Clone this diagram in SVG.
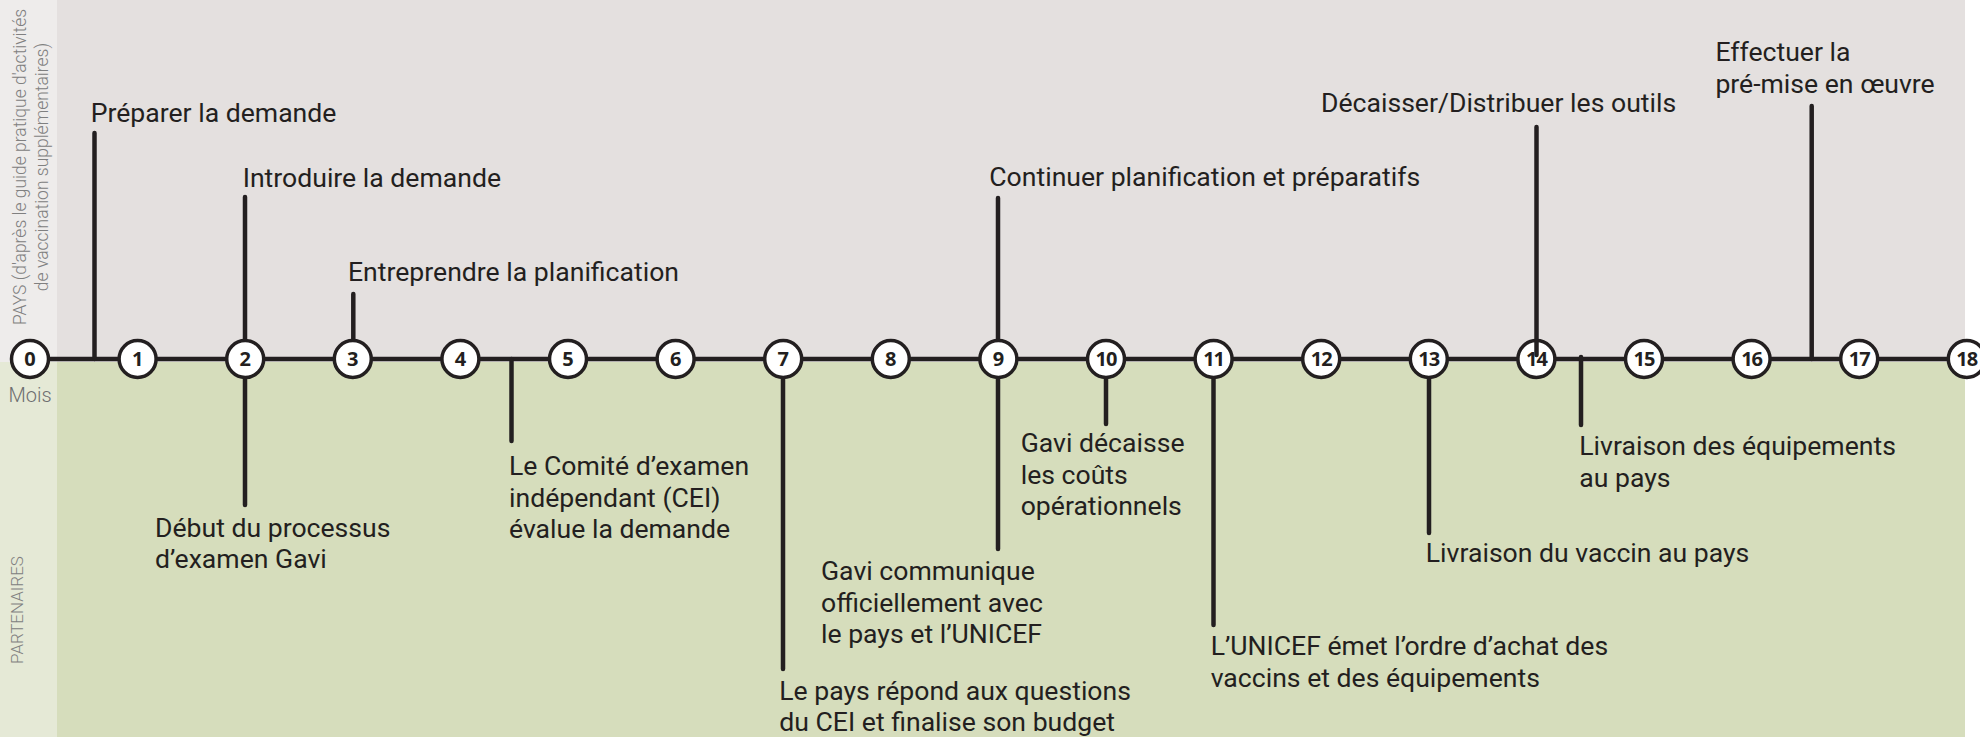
<svg xmlns="http://www.w3.org/2000/svg" width="1980" height="737" viewBox="0 0 1980 737">
<style>
.lbl{font-family:Roboto,"Liberation Sans",sans-serif;font-size:26.6px;fill:#231f20;}
.side{font-family:Roboto,"Liberation Sans",sans-serif;font-weight:300;font-size:17.5px;fill:#808080;}
.mois{font-family:Roboto,"Liberation Sans",sans-serif;font-weight:300;font-size:20px;fill:#6d6e70;}
.ln{stroke:#231f20;stroke-width:4.5;stroke-linecap:round;fill:none;}
.dot{fill:#ffffff;stroke:#231f20;stroke-width:3.5;}
.num{font-family:"Open Sans","DejaVu Sans",sans-serif;font-weight:700;font-size:20px;fill:#231f20;text-anchor:middle;}
</style>
<g id="background">
<rect x="0" y="0" width="1965" height="362" fill="#e4e0df"/>
<rect x="0" y="362" width="1965" height="375" fill="#d6ddbc"/>
<rect x="0" y="0" width="57" height="362" fill="#eeeceb"/>
<rect x="0" y="362" width="57" height="375" fill="#e5e9d6"/>
</g>
<g id="side-labels">
<text class="side" text-anchor="middle" transform="translate(25.5,167) rotate(-90)">PAYS (d'après le guide pratique d'activités</text>
<text class="side" text-anchor="middle" transform="translate(47.5,167) rotate(-90)">de vaccination supplémentaires)</text>
<text class="side" style="font-size:17px" text-anchor="middle" transform="translate(22.5,610) rotate(-90)">PARTENAIRES</text>
<text class="mois" x="30" y="402" text-anchor="middle">Mois</text>
</g>
<g id="connectors">
<line class="ln" x1="30" y1="359" x2="1985" y2="359"/>
<line class="ln" x1="94.5" y1="133" x2="94.5" y2="359"/>
<line class="ln" x1="245" y1="197" x2="245" y2="505"/>
<line class="ln" x1="353.3" y1="294" x2="353.3" y2="359"/>
<line class="ln" x1="511.5" y1="359" x2="511.5" y2="441"/>
<line class="ln" x1="783" y1="359" x2="783" y2="669"/>
<line class="ln" x1="998" y1="198" x2="998" y2="549"/>
<line class="ln" x1="1106" y1="359" x2="1106" y2="424"/>
<line class="ln" x1="1213.5" y1="359" x2="1213.5" y2="625"/>
<line class="ln" x1="1429" y1="359" x2="1429" y2="533"/>
<line class="ln" x1="1581" y1="357" x2="1581" y2="425"/>
<line class="ln" x1="1811.7" y1="106" x2="1811.7" y2="359"/>
</g>
<g id="months">
<g id="m0"><circle class="dot" cx="30" cy="359" r="18.5"/><text class="num" x="30" y="366">0</text></g>
<g id="m1"><circle class="dot" cx="137.6" cy="359" r="18.5"/><text class="num" x="137.6" y="366">1</text></g>
<g id="m2"><circle class="dot" cx="245.2" cy="359" r="18.5"/><text class="num" x="245.2" y="366">2</text></g>
<g id="m3"><circle class="dot" cx="352.8" cy="359" r="18.5"/><text class="num" x="352.8" y="366">3</text></g>
<g id="m4"><circle class="dot" cx="460.4" cy="359" r="18.5"/><text class="num" x="460.4" y="366">4</text></g>
<g id="m5"><circle class="dot" cx="568" cy="359" r="18.5"/><text class="num" x="568" y="366">5</text></g>
<g id="m6"><circle class="dot" cx="675.6" cy="359" r="18.5"/><text class="num" x="675.6" y="366">6</text></g>
<g id="m7"><circle class="dot" cx="783.2" cy="359" r="18.5"/><text class="num" x="783.2" y="366">7</text></g>
<g id="m8"><circle class="dot" cx="890.8" cy="359" r="18.5"/><text class="num" x="890.8" y="366">8</text></g>
<g id="m9"><circle class="dot" cx="998.4" cy="359" r="18.5"/><text class="num" x="998.4" y="366">9</text></g>
<g id="m10"><circle class="dot" cx="1106" cy="359" r="18.5"/><text class="num" x="1106" y="366" letter-spacing="-1">10</text></g>
<g id="m11"><circle class="dot" cx="1213.6" cy="359" r="18.5"/><text class="num" x="1213.6" y="366" letter-spacing="-1">11</text></g>
<g id="m12"><circle class="dot" cx="1321.2" cy="359" r="18.5"/><text class="num" x="1321.2" y="366" letter-spacing="-1">12</text></g>
<g id="m13"><circle class="dot" cx="1428.8" cy="359" r="18.5"/><text class="num" x="1428.8" y="366" letter-spacing="-1">13</text></g>
<g id="m14"><circle class="dot" cx="1536.4" cy="359" r="18.5"/><line class="ln" x1="1536.5" y1="127" x2="1536.5" y2="355"/><text class="num" x="1536.4" y="366" letter-spacing="-1">14</text></g>
<g id="m15"><circle class="dot" cx="1644" cy="359" r="18.5"/><text class="num" x="1644" y="366" letter-spacing="-1">15</text></g>
<g id="m16"><circle class="dot" cx="1751.6" cy="359" r="18.5"/><text class="num" x="1751.6" y="366" letter-spacing="-1">16</text></g>
<g id="m17"><circle class="dot" cx="1859.2" cy="359" r="18.5"/><text class="num" x="1859.2" y="366" letter-spacing="-1">17</text></g>
<g id="m18"><circle class="dot" cx="1966.8" cy="359" r="18.5"/><text class="num" x="1966.8" y="366" letter-spacing="-1">18</text></g>
</g>
<g id="country-steps">
<g id="s-preparer"><text class="lbl" x="90.7" y="122">Préparer la demande</text></g>
<g id="s-introduire"><text class="lbl" x="242.7" y="186.7">Introduire la demande</text></g>
<g id="s-entreprendre"><text class="lbl" x="348" y="280.7">Entreprendre la planification</text></g>
<g id="s-continuer"><text class="lbl" x="989.3" y="186">Continuer planification et préparatifs</text></g>
<g id="s-decaisser"><text class="lbl" x="1321" y="111.7">Décaisser/Distribuer les outils</text></g>
<g id="s-effectuer"><text class="lbl" x="1715.4" y="60.7">Effectuer la</text><text class="lbl" x="1715.4" y="92.7">pré-mise en œuvre</text></g>
</g>
<g id="partner-steps">
<g id="p-debut"><text class="lbl" x="155" y="536.7">Début du processus</text><text class="lbl" x="155" y="568.3">d’examen Gavi</text></g>
<g id="p-cei"><text class="lbl" x="509" y="475">Le Comité d’examen</text><text class="lbl" x="509" y="506.5">indépendant (CEI)</text><text class="lbl" x="509" y="538">évalue la demande</text></g>
<g id="p-pays"><text class="lbl" x="779.3" y="700">Le pays répond aux questions</text><text class="lbl" x="779.3" y="731">du CEI et finalise son budget</text></g>
<g id="p-gavi-comm"><text class="lbl" x="821" y="580">Gavi communique</text><text class="lbl" x="821" y="611.7">officiellement avec</text><text class="lbl" x="821" y="643.3">le pays et l’UNICEF</text></g>
<g id="p-gavi-dec"><text class="lbl" x="1020.7" y="451.7">Gavi décaisse</text><text class="lbl" x="1020.7" y="483.5">les coûts</text><text class="lbl" x="1020.7" y="515">opérationnels</text></g>
<g id="p-unicef"><text class="lbl" x="1210.7" y="655">L’UNICEF émet l’ordre d’achat des</text><text class="lbl" x="1210.7" y="686.7">vaccins et des équipements</text></g>
<g id="p-vaccin"><text class="lbl" x="1425.8" y="561.7">Livraison du vaccin au pays</text></g>
<g id="p-equip"><text class="lbl" x="1579.3" y="455">Livraison des équipements</text><text class="lbl" x="1579.3" y="486.7">au pays</text></g>
</g>
</svg>
